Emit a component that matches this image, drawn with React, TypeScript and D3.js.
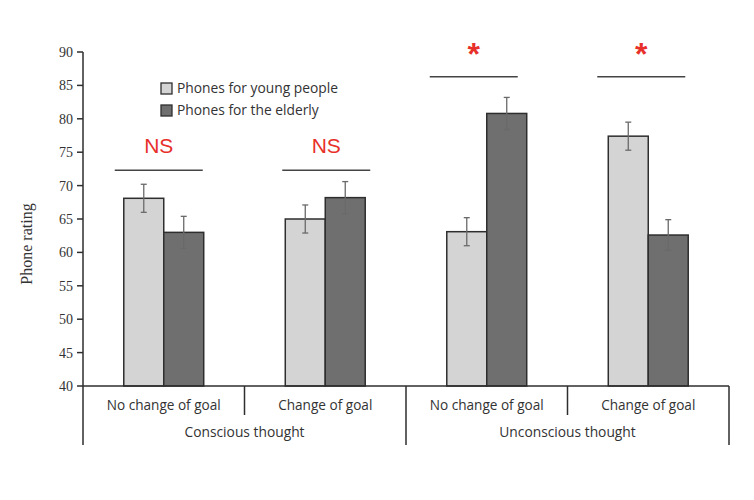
import React from "react";
import * as d3 from "d3";

const groups = ["Conscious thought", "Unconscious thought"];
const conditions = ["No change of goal", "Change of goal", "No change of goal", "Change of goal"];
const series = ["Phones for young people", "Phones for the elderly"];
const youngValues = [68.1, 65.0, 63.1, 77.4];
const elderlyValues = [63.0, 68.2, 80.8, 62.6];
const youngErrors = [2.1, 2.1, 2.1, 2.1];
const elderlyErrors = [2.4, 2.4, 2.4, 2.3];
const sigLabels = ["NS", "NS", "*", "*"];
const sigLevels = [72.3, 72.3, 86.3, 86.3];
const yTicks = [40, 45, 50, 55, 60, 65, 70, 75, 80, 85, 90];

const W = 754, H = 500;
const left = 83, right = 729, top = 52, bottom = 386;
const colors = ["#d4d4d4", "#6f6f6f"];
const sans = "'Open Sans', sans-serif";
const serif = "'Liberation Serif', 'Times New Roman', serif";
// layout nudges of the significance brackets relative to category centres
const sigShift = [-5, 1, -13, -7];

export default function App() {
  const y = d3.scaleLinear().domain([40, 90]).range([bottom, top]);
  const xCat = d3.scaleBand<number>().domain(d3.range(conditions.length)).range([left, right]).padding(0);
  const xGroup = d3.scaleBand<number>().domain(d3.range(groups.length)).range([left, right]).padding(0);
  const xSeries = d3.scaleBand<number>().domain([0, 1]).range([0, xCat.bandwidth()]).paddingInner(0).paddingOuter(1.02);
  const values = [youngValues, elderlyValues];
  const errors = [youngErrors, elderlyErrors];
  const bw = xSeries.bandwidth();

  return (
    <svg width={W} height={H} style={{ position: "absolute", left: 0, top: 0, background: "#fff" }}>
      {conditions.map((_, i) =>
        values.map((vals, s) => {
          const x0 = (xCat(i) as number) + (xSeries(s) as number);
          return (
            <rect key={`b${i}-${s}`} x={x0} y={y(vals[i])} width={bw} height={y(40) - y(vals[i])} fill={colors[s]} stroke="#2e2e2e" strokeWidth={1.5} />
          );
        })
      )}
      {conditions.map((_, i) =>
        values.map((vals, s) => {
          const cx = (xCat(i) as number) + (xSeries(s) as number) + bw / 2;
          const hi = y(vals[i] + errors[s][i]);
          const lo = y(vals[i] - errors[s][i]);
          return (
            <g key={`e${i}-${s}`} stroke="#6a6a6a" strokeWidth={1.3}>
              <line x1={cx} x2={cx} y1={hi} y2={lo} />
              <line x1={cx - 3} x2={cx + 3} y1={hi} y2={hi} />
              <line x1={cx - 3} x2={cx + 3} y1={lo} y2={lo} />
            </g>
          );
        })
      )}
      <line x1={left} x2={left} y1={top} y2={445} stroke="#2e2e2e" strokeWidth={1.5} />
      {yTicks.map((t) => (
        <g key={`t${t}`}>
          <line x1={left - 6} x2={left} y1={y(t)} y2={y(t)} stroke="#2e2e2e" strokeWidth={1.5} />
          <text x={left - 10} y={y(t)} dy="0.35em" textAnchor="end" fontFamily={serif} fontSize={14} fill="#333">{t}</text>
        </g>
      ))}
      <text transform={`translate(32,244) rotate(-90)`} textAnchor="middle" fontFamily={serif} fontSize={16} fill="#333">Phone rating</text>
      <line x1={left} x2={right} y1={bottom} y2={bottom} stroke="#2e2e2e" strokeWidth={1.5} />
      {conditions.map((c, i) => (
        <g key={`c${i}`}>
          {i % 2 === 1 && (
            <line x1={xCat(i)} x2={xCat(i)} y1={bottom} y2={415} stroke="#2e2e2e" strokeWidth={1.5} />
          )}
          <text x={(xCat(i) as number) + xCat.bandwidth() / 2} y={410} textAnchor="middle" fontFamily={sans} fontSize={13.6} fill="#333">{c}</text>
        </g>
      ))}
      {groups.map((g, j) => (
        <g key={`g${j}`}>
          <line x1={(xGroup(j) as number) + xGroup.bandwidth()} x2={(xGroup(j) as number) + xGroup.bandwidth()} y1={bottom} y2={445} stroke="#2e2e2e" strokeWidth={1.5} />
          <text x={(xGroup(j) as number) + xGroup.bandwidth() / 2} y={437} textAnchor="middle" fontFamily={sans} fontSize={13.8} fill="#333">{g}</text>
        </g>
      ))}
      {sigLabels.map((lab, i) => {
        const cx = (xCat(i) as number) + xCat.bandwidth() / 2 + sigShift[i];
        const ly = y(sigLevels[i]);
        return (
          <g key={`s${i}`}>
            <line x1={cx - 44} x2={cx + 44} y1={ly} y2={ly} stroke="#444" strokeWidth={1.5} />
            {lab === "*" ? (
              <text x={cx} y={ly - 12} textAnchor="middle" fontFamily="'Liberation Sans', Arial, sans-serif" fontWeight="bold" fontSize={32} fill="#e8302a">*</text>
            ) : (
              <text x={cx} y={ly - 17} textAnchor="middle" fontFamily="'Liberation Sans', Arial, sans-serif" fontSize={21} fill="#e8302a">{lab}</text>
            )}
          </g>
        );
      })}
      {series.map((s, k) => (
        <g key={`l${k}`} transform={`translate(161,${83 + k * 22})`}>
          <rect x={0} y={0} width={11} height={11} fill={colors[k]} stroke="#2e2e2e" strokeWidth={1.3} />
          <text x={16} y={10} fontFamily={sans} fontSize={13.8} fill="#333">{s}</text>
        </g>
      ))}
    </svg>
  );
}
